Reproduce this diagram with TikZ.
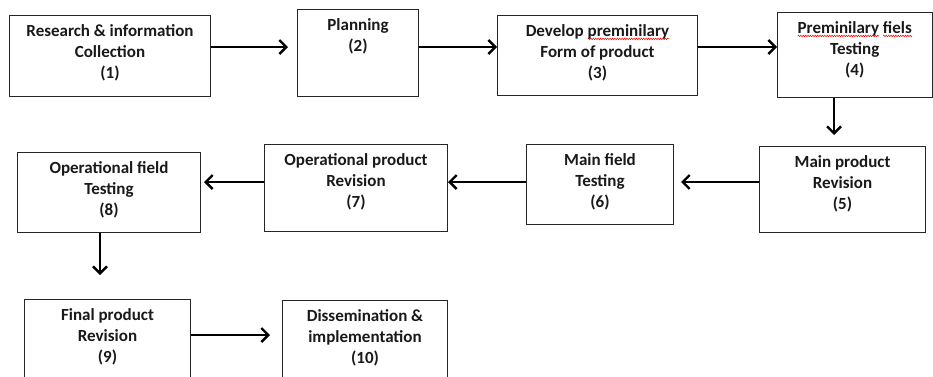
\documentclass[tikz,border=0pt]{standalone}
\usepackage{fontspec}
\setmainfont{Carlito}
\usetikzlibrary{positioning,arrows.meta,decorations.pathmorphing}

% red spell-check wave under a word
\newsavebox{\wavebox}
\newlength{\wavelen}
\newcommand{\spellwave}[1]{\sbox{\wavebox}{#1}\setlength{\wavelen}{\wd\wavebox}%
  \rlap{\raisebox{-3.5pt}{\tikz\draw[red, line width=0.5pt, decorate, decoration={zigzag, amplitude=0.8pt, segment length=2.4pt}] (0pt,0pt) -- (\wavelen,0pt);}}\usebox{\wavebox}}

\tikzset{
  stage/.style={draw=black!85, line width=1pt, rectangle, inner sep=0pt, anchor=north west},
  flow/.style={line width=2.5pt, -{Straight Barb[length=7pt,width=14pt,line width=2.4pt]}},
  every label/.append style={align=center, font=\bfseries\fontsize{17}{21}\selectfont, text=black!90}
}

\begin{document}
\begin{tikzpicture}[x=1pt,y=-1pt]
\useasboundingbox (0,0) rectangle (933,376);

% first row
\node[stage, minimum width=201, minimum height=81, label={[below=6pt]north:{Research \& information\\Collection\\(1)}}] (research) at (9,15) {};
\node[stage, minimum width=121, minimum height=87, label={[below=6pt]north:{Planning\\(2)}}] (planning) at (297,9) {};
\node[stage, minimum width=200, minimum height=80, label={[below=6pt]north:{Develop \spellwave{preminilary}\\Form of product\\(3)}}] (develop) at (497,15) {};
\node[stage, minimum width=154.5, minimum height=85, label={[below=6pt]north:{\spellwave{Preminilary} \spellwave{fiels}\\Testing\\(4)}}] (pretest) at (777,12) {};

% second row
\node[stage, minimum width=166, minimum height=86, label={[below=6pt]north:{Main product\\Revision\\(5)}}] (mainrev) at (759,146) {};
\node[stage, minimum width=147, minimum height=80, label={[below=6pt]north:{Main field\\Testing\\(6)}}] (maintest) at (526,144) {};
\node[stage, minimum width=183, minimum height=87, label={[below=6pt]north:{Operational product\\Revision\\(7)}}] (oprev) at (264,144) {};
\node[stage, minimum width=183, minimum height=80, label={[below=6pt]north:{Operational field\\Testing\\(8)}}] (optest) at (17,152) {};

% third row
\node[stage, minimum width=166, minimum height=90, label={[below=6pt]north:{Final product\\Revision\\(9)}}] (finalrev) at (24,299) {};
\node[stage, minimum width=165, minimum height=90, label={[below=6pt]north:{Dissemination \&\\implementation\\(10)}}] (dissem) at (282,300) {};

\coordinate (row1) at (0,47);
\coordinate (row2) at (0,182);
\coordinate (row3) at (0,335);
\coordinate (col4) at (834,0);
\coordinate (col8) at (100,0);

\draw[flow, shorten >=9pt] (research.east |- row1) -- (planning.west |- row1);
\draw[flow] (planning.east |- row1) -- (develop.west |- row1);
\draw[flow] (develop.east |- row1) -- (pretest.west |- row1);
\draw[flow, shorten >=11pt] (pretest.south -| col4) -- (mainrev.north -| col4);
\draw[flow, shorten >=7pt] (mainrev.west |- row2) -- (maintest.east |- row2);
\draw[flow] (maintest.west |- row2) -- (oprev.east |- row2);
\draw[flow, shorten >=3pt] (oprev.west |- row2) -- (optest.east |- row2);
\draw[flow, shorten >=24pt] (optest.south -| col8) -- (finalrev.north -| col8);
\draw[flow, shorten >=12pt] (finalrev.east |- row3) -- (dissem.west |- row3);
\end{tikzpicture}
\end{document}
